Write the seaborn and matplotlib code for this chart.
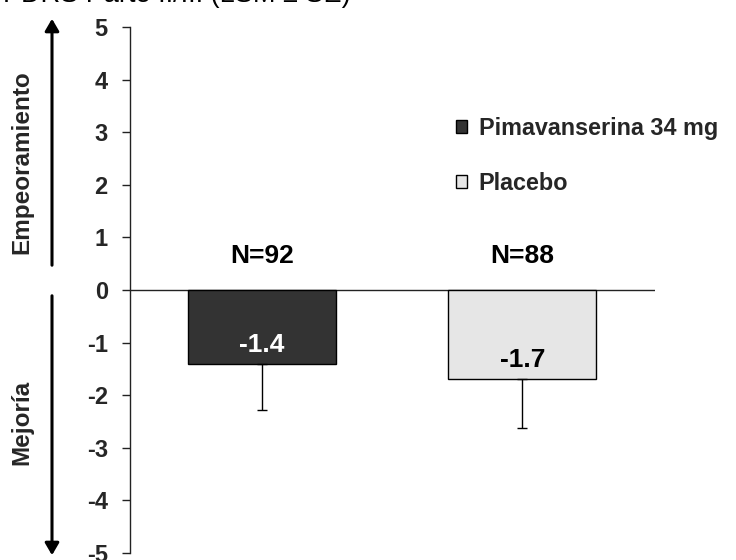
import matplotlib
matplotlib.use("Agg")
import matplotlib.pyplot as plt
import seaborn as sns
import pandas as pd

# Cambio medio desde el basal (LSM) y error estándar por grupo
grupos = ["Pimavanserina 34 mg", "Placebo"]
cambio = [-1.4, -1.7]
error_std = [0.88, 0.92]
n_pacientes = [92, 88]
colores = ["#333333", "#e6e6e6"]
color_valor = ["white", "black"]
yticks = [5, 4, 3, 2, 1, 0, -1, -2, -3, -4, -5]

df = pd.DataFrame({"grupo": grupos, "cambio": cambio, "se": error_std, "n": n_pacientes})

sns.set_theme(style="white")
plt.rcParams["font.family"] = ["Liberation Sans", "DejaVu Sans"]

W, H = 736, 560
fig = plt.figure(figsize=(W / 100, H / 100), dpi=100)
ax = fig.add_axes([130 / W, 1 - 553 / H, 525 / W, 526 / H])

sns.barplot(data=df, x="grupo", y="cambio", hue="grupo", palette=colores,
            width=0.57, edgecolor="black", linewidth=1.0, ax=ax, legend=True,
            errorbar=None)

# Barras de error solo hacia abajo, valor dentro de la barra y tamaño de muestra
for i, row in df.iterrows():
    ax.errorbar(i, row["cambio"], yerr=[[row["se"]], [0]], fmt="none",
                ecolor="black", elinewidth=1.0, capsize=3.3, capthick=1.0)
    ax.text(i, row["cambio"] + 0.36, f"{row['cambio']:.1f}", ha="center", va="center",
            fontsize=19, fontweight="bold", color=color_valor[i])
    ax.text(i, 0.65, f"N={row['n']}", ha="center", va="center",
            fontsize=19, fontweight="bold", color="black")

ax.axhline(0, color="#222222", lw=1.0, zorder=0.5)
ax.set_xlim(-0.508, 1.51)
ax.set_ylim(-5, 5)
ax.set_yticks(yticks)
ax.set_yticklabels([str(t) for t in yticks], fontsize=17, fontweight="bold")
ax.set_xticks([])
ax.set_xlabel("")
ax.set_ylabel("")
for s in ["top", "right", "bottom"]:
    ax.spines[s].set_visible(False)
ax.spines["left"].set_color("#222222")
ax.spines["left"].set_linewidth(1.0)
ax.tick_params(axis="y", which="both", left=True, direction="out", length=6,
               width=1.0, color="#222222", pad=10)

sns.move_legend(ax, loc="upper left", bbox_to_anchor=(435 / W, 1 - 96 / H),
                bbox_transform=fig.transFigure, frameon=False, title=None,
                handlelength=0.48, handleheight=0.48, handletextpad=0.5,
                labelspacing=1.38, prop={"weight": "bold", "size": 16.8})

# Título parcialmente visible en el borde superior
fig.text(351 / W, 1 - 1.5 / H, "MDS-UPDRS Parte II/III (LSM ± SE)", ha="right",
         va="baseline", fontsize=19.5, color="black")

# Flechas de interpretación
arrow_kw = dict(arrowstyle="-|>,head_length=0.6,head_width=0.35", color="black", lw=2.2)
ax.annotate("", xy=(52, H - 16), xytext=(52, H - 268), xycoords="figure pixels",
            textcoords="figure pixels", arrowprops=arrow_kw, annotation_clip=False)
ax.annotate("", xy=(52, 2), xytext=(52, H - 293), xycoords="figure pixels",
            textcoords="figure pixels", arrowprops=arrow_kw, annotation_clip=False)
fig.text(22 / W, 1 - 162 / H, "Empeoramiento", rotation=90, ha="center", va="center",
         fontsize=17.5, fontweight="bold")
fig.text(22 / W, 1 - 422 / H, "Mejoría", rotation=90, ha="center", va="center",
         fontsize=17.5, fontweight="bold")

fig.savefig("out.png", dpi=100)
